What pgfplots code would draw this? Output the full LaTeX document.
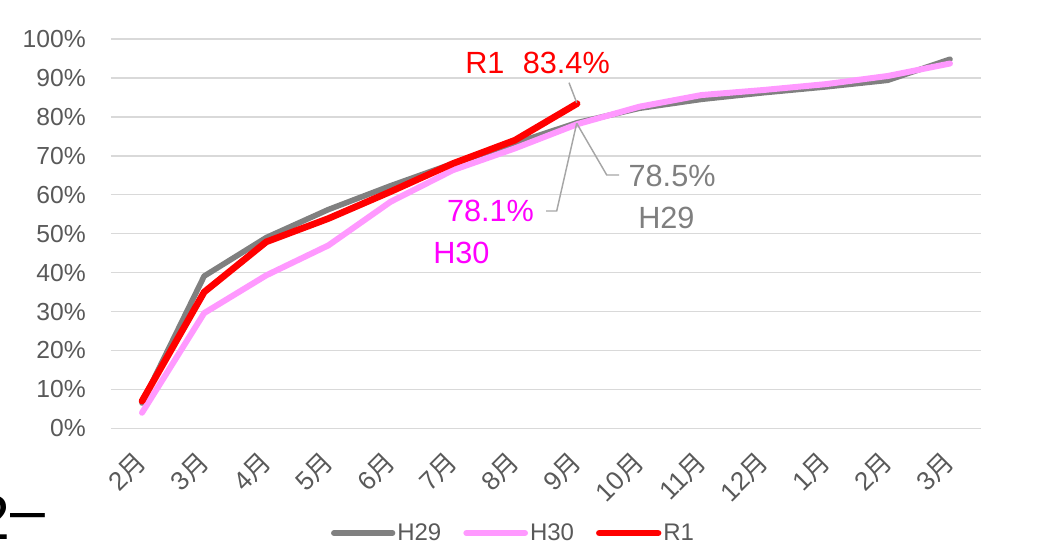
\documentclass[border=0pt]{standalone}
\usepackage{fontspec}
\setmainfont{Liberation Sans}
\newfontfamily\cjk{Noto Sans CJK JP}
\usepackage{pgfplots}
\pgfplotsset{compat=1.18}
\definecolor{gridc}{HTML}{D9D9D9}
\definecolor{txt}{HTML}{595959}
\definecolor{h29}{HTML}{808080}
\definecolor{h30}{HTML}{FF99FF}
\definecolor{r1}{HTML}{FF0000}
\definecolor{lead}{HTML}{A6A6A6}
\definecolor{mag}{HTML}{FF00FF}
\definecolor{anngray}{HTML}{7F7F7F}
\begin{document}
\begin{tikzpicture}
\path[use as bounding box] (0,0) rectangle (792pt,411.75pt);
\begin{axis}[
  at={(83.2pt,90.5pt)}, anchor=south west,
  scale only axis, width=652.6pt, height=292pt,
  xmin=-0.5, xmax=13.5, ymin=0, ymax=100,
  axis line style={draw=none},
  major tick length=0pt,
  ytick={0,10,20,30,40,50,60,70,80,90,100},
  yticklabels={0\%,10\%,20\%,30\%,40\%,50\%,60\%,70\%,80\%,90\%,100\%},
  ymajorgrids, grid style={gridc, line width=1.1pt},
  xtick={0,1,2,3,4,5,6,7,8,9,10,11,12,13},
  xticklabels={2{\cjk 月},3{\cjk 月},4{\cjk 月},5{\cjk 月},6{\cjk 月},7{\cjk 月},8{\cjk 月},9{\cjk 月},10{\cjk 月},11{\cjk 月},12{\cjk 月},1{\cjk 月},2{\cjk 月},3{\cjk 月}},
  xticklabel style={rotate=45, anchor=east, inner sep=0pt, font=\fontsize{19.5pt}{22pt}\selectfont, text=txt},
  xticklabel shift=22pt,
  yticklabel style={anchor=east, inner sep=0pt, xshift=-18.7pt, font=\fontsize{18.5pt}{22pt}\selectfont, text=txt},
  clip=false,
  legend columns=3,
  legend style={at={(0.4627,-0.269)}, anchor=center, draw=none, fill=none,
    font=\fontsize{18pt}{21pt}\selectfont, text=txt,
    /tikz/every even column/.append style={column sep=15pt},
    nodes={inner sep=1.5pt}},
  legend image code/.code={\draw[#1, line cap=round] (0pt,0pt) -- (44pt,0pt);},
]
\addplot[h29, line width=4.2pt, line join=round, line cap=round] coordinates {
(0,6.5) (1,39.1) (2,49.0) (3,56.2) (4,62.3) (5,68.0) (6,73.2) (7,78.5)
(8,82.2) (9,84.5) (10,86.2) (11,87.7) (12,89.4) (13,94.8)};
\addlegendentry{H29}
\addplot[h30, line width=4.5pt, line join=round, line cap=round] coordinates {
(0,4.0) (1,29.6) (2,39.3) (3,47.0) (4,58.2) (5,66.3) (6,71.9) (7,78.1)
(8,82.6) (9,85.6) (10,86.9) (11,88.4) (12,90.5) (13,93.7)};
\addlegendentry{H30}
\addplot[r1, line width=5pt, line join=round, line cap=round] coordinates {
(0,7.0) (1,35.0) (2,47.9) (3,53.9) (4,60.8) (5,68.0) (6,74.0) (7,83.4)};
\addlegendentry{R1}
% leader lines
\draw[lead, line width=1.1pt] (axis cs:6.870,88.78) -- (axis cs:6.994,83.64);
\draw[lead, line width=1.1pt] (axis cs:6.994,78.35) -- (axis cs:7.477,65.07) -- (axis cs:7.675,65.07);
\draw[lead, line width=1.1pt] (axis cs:6.994,78.35) -- (axis cs:6.672,55.82) -- (axis cs:6.50,55.82);
% labels
\node[anchor=base west, inner sep=0pt, text=r1, font=\fontsize{23pt}{27pt}\selectfont] at (axis cs:5.197,91.2) {R1\hspace{0.6em}83.4\%};
\node[anchor=base west, inner sep=0pt, text=anngray, font=\fontsize{23pt}{27pt}\selectfont] at (axis cs:7.825,62.06) {78.5\%};
\node[anchor=base west, inner sep=0pt, text=anngray, font=\fontsize{23pt}{27pt}\selectfont] at (axis cs:7.98,51.45) {H29};
\node[anchor=base west, inner sep=0pt, text=mag, font=\fontsize{23pt}{27pt}\selectfont] at (axis cs:4.903,53.07) {78.1\%};
\node[anchor=base west, inner sep=0pt, text=mag, font=\fontsize{23pt}{27pt}\selectfont] at (axis cs:4.682,42.46) {H30};
\end{axis}
\node[anchor=base east, inner sep=0pt, font=\fontsize{47pt}{50pt}\selectfont] at (34pt,6.75pt) {2\raisebox{6pt}{–}};
\end{tikzpicture}
\end{document}
